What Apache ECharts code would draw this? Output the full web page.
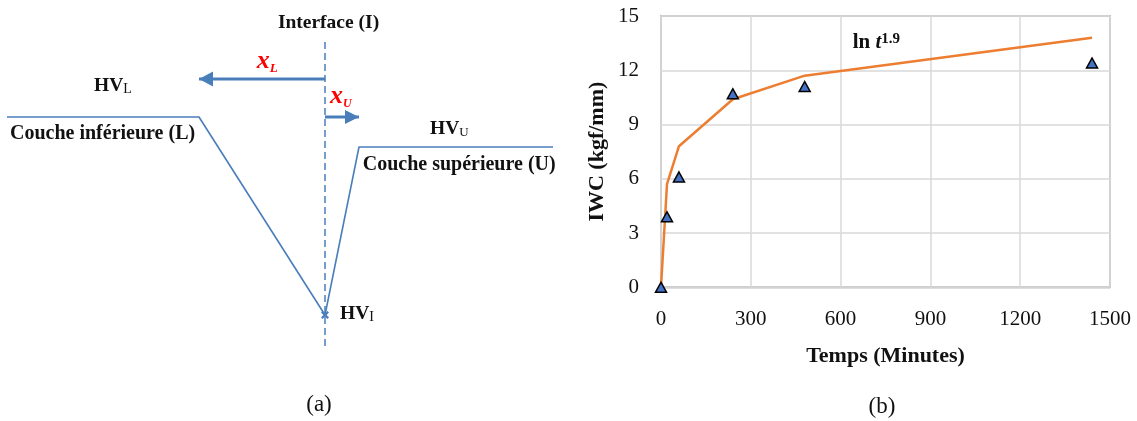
<!DOCTYPE html>
<html>
<head>
<meta charset="utf-8">
<script src="https://cdn.jsdelivr.net/npm/echarts@6/dist/echarts.min.js"></script>
<style>
html,body{margin:0;padding:0;background:#ffffff;}
#chart{width:1137px;height:421px;}
</style>
</head>
<body>
<div id="chart"></div>
<script>
// ---------- Panel (b) data ----------
const timeMinutes = [0, 20, 60, 240, 480, 1440];
const iwcMeasured = [0, 3.9, 6.1, 10.7, 11.1, 12.4];
const iwcModel = [0, 5.7, 7.8, 10.4, 11.7, 13.8];
const xTicks = [0, 300, 600, 900, 1200, 1500];
const yTicks = [0, 3, 6, 9, 12, 15];

// ---------- Panel (a) schematic data (distance from interface, hardness level) ----------
const profileDistance = [-318, -126, 0, 34, 228];
const profileHardness = [198, 198, 0, 168, 168];
const interfaceDistance = [0, 0];
const interfaceExtent = [273, -33];
const arrowLDistance = [0, -126];
const arrowLLevel = [236, 236];
const arrowUDistance = [0, 34];
const arrowULevel = [198, 198];
const minPoint = [0, 0];

const FONT = "'Liberation Serif', 'Times New Roman', serif";
const BLUE = '#4a7ebb';
const TXT = '#111111';

const zip = (a, b) => a.map((v, i) => [v, b[i]]);

const chart = echarts.init(document.getElementById('chart'), null, {renderer: 'canvas'});

const hiddenAxis = {
  show: false, axisLine: {show: false}, axisTick: {show: false},
  axisLabel: {show: false}, splitLine: {show: false}
};

const option = {
  backgroundColor: '#ffffff',
  animation: false,
  grid: [
    {left: 661, top: 16, width: 449, height: 271.3, show: true,
     borderColor: '#bfbfbf', borderWidth: 2, backgroundColor: 'transparent',
     containLabel: false, outerBoundsMode: 'none'},
    {left: 0, top: 0, width: 570, height: 421, show: false,
     containLabel: false, outerBoundsMode: 'none'}
  ],
  xAxis: [
    {gridIndex: 0, type: 'value', min: xTicks[0], max: xTicks[xTicks.length - 1], interval: 300,
     name: 'Temps (Minutes)', nameLocation: 'middle', nameGap: 58,
     nameTextStyle: {fontFamily: FONT, fontWeight: 'bold', fontSize: 22, color: TXT},
     axisLine: {show: false}, axisTick: {show: false},
     axisLabel: {fontFamily: FONT, fontSize: 21, color: TXT, margin: 22, formatter: v => String(v)},
     splitLine: {show: true, lineStyle: {color: '#d9d9d9', width: 1.5}}},
    Object.assign({gridIndex: 1, type: 'value', min: -325, max: 245}, hiddenAxis)
  ],
  yAxis: [
    {gridIndex: 0, type: 'value', min: yTicks[0], max: yTicks[yTicks.length - 1], interval: 3,
     name: 'IWC (kgf/mm)', nameLocation: 'middle', nameGap: 53,
     nameTextStyle: {fontFamily: FONT, fontWeight: 'bold', fontSize: 22, color: TXT},
     axisLine: {show: false}, axisTick: {show: false},
     axisLabel: {fontFamily: FONT, fontSize: 21, color: TXT, margin: 22, formatter: v => String(v)},
     splitLine: {show: true, lineStyle: {color: '#d9d9d9', width: 1.5}}},
    Object.assign({gridIndex: 1, type: 'value', min: -106, max: 315}, hiddenAxis)
  ],
  series: [
    // ----- panel (b) -----
    {type: 'line', name: 'ln t^1.9', xAxisIndex: 0, yAxisIndex: 0,
     data: zip(timeMinutes, iwcModel), showSymbol: false, symbol: 'none',
     lineStyle: {color: '#ed7d31', width: 2.5}, z: 3},
    {type: 'scatter', name: 'IWC', xAxisIndex: 0, yAxisIndex: 0,
     data: zip(timeMinutes, iwcMeasured), symbol: 'triangle', symbolSize: [11, 10],
     itemStyle: {color: '#4472c4', borderColor: '#000000', borderWidth: 1.5, opacity: 1}, z: 4},
    // ----- panel (a) -----
    {type: 'line', xAxisIndex: 1, yAxisIndex: 1, data: zip(interfaceDistance, interfaceExtent),
     symbol: 'none', lineStyle: {color: BLUE, width: 1.5, type: [7, 4]}, z: 2},
    {type: 'line', xAxisIndex: 1, yAxisIndex: 1, data: zip(profileDistance, profileHardness),
     symbol: 'none', lineStyle: {color: BLUE, width: 1.6}, z: 3},
    {type: 'line', xAxisIndex: 1, yAxisIndex: 1, data: zip(arrowLDistance, arrowLLevel),
     symbol: 'none', lineStyle: {color: BLUE, width: 3}, z: 3},
    {type: 'line', xAxisIndex: 1, yAxisIndex: 1, data: zip(arrowUDistance, arrowULevel),
     symbol: 'none', lineStyle: {color: BLUE, width: 3}, z: 3},
    {type: 'scatter', xAxisIndex: 1, yAxisIndex: 1,
     data: [[arrowLDistance[1], arrowLLevel[1]]], symbol: 'triangle', symbolSize: [15, 14],
     symbolRotate: 90, symbolOffset: [7, 0], itemStyle: {color: BLUE, opacity: 1}, z: 4},
    {type: 'scatter', xAxisIndex: 1, yAxisIndex: 1,
     data: [[arrowUDistance[1], arrowULevel[1]]], symbol: 'triangle', symbolSize: [14, 14],
     symbolRotate: -90, symbolOffset: [-7, 0], itemStyle: {color: BLUE, opacity: 1}, z: 4},
    {type: 'scatter', xAxisIndex: 1, yAxisIndex: 1, data: [minPoint],
     symbol: 'path://M2,0L5,3L8,0L10,2L7,5L10,8L8,10L5,7L2,10L0,8L3,5L0,2Z',
     symbolSize: 8, itemStyle: {color: BLUE, opacity: 1}, z: 5}
  ],
  graphic: [
    {type: 'text', x: 328.5, y: 23.3, silent: true,
     style: {text: 'Interface (I)', fontFamily: FONT, fontWeight: 'bold', fontSize: 19.5, fill: TXT,
             align: 'center', verticalAlign: 'middle', textAlign: 'center', textVerticalAlign: 'middle'}},
    {type: 'text', x: 256.7, y: 61.7, silent: true,
     style: {text: '{x|x}{s|L}', align: 'left', verticalAlign: 'middle', textAlign: 'left', textVerticalAlign: 'middle',
             rich: {x: {fontFamily: FONT, fontStyle: 'italic', fontWeight: 'bold', fontSize: 26, fill: '#ff0000', color: '#ff0000', lineHeight: 26},
                    s: {fontFamily: FONT, fontStyle: 'italic', fontWeight: 'bold', fontSize: 13, fill: '#ff0000', color: '#ff0000', lineHeight: 14, verticalAlign: 'bottom'}}}},
    {type: 'text', x: 330, y: 96.7, silent: true,
     style: {text: '{x|x}{s|U}', align: 'left', verticalAlign: 'middle', textAlign: 'left', textVerticalAlign: 'middle',
             rich: {x: {fontFamily: FONT, fontStyle: 'italic', fontWeight: 'bold', fontSize: 26, fill: '#ff0000', color: '#ff0000', lineHeight: 26},
                    s: {fontFamily: FONT, fontStyle: 'italic', fontWeight: 'bold', fontSize: 12, fill: '#ff0000', color: '#ff0000', lineHeight: 14, verticalAlign: 'bottom'}}}},
    {type: 'text', x: 94, y: 86, silent: true,
     style: {text: '{b|HV}{s|L}', align: 'left', verticalAlign: 'middle', textAlign: 'left', textVerticalAlign: 'middle',
             rich: {b: {fontFamily: FONT, fontWeight: 'bold', fontSize: 19.5, fill: TXT, color: TXT, lineHeight: 20},
                    s: {fontFamily: FONT, fontSize: 14, fill: TXT, color: TXT, lineHeight: 14, verticalAlign: 'bottom'}}}},
    {type: 'text', x: 10, y: 134, silent: true,
     style: {text: 'Couche inférieure (L)', fontFamily: FONT, fontWeight: 'bold', fontSize: 20, fill: TXT,
             align: 'left', verticalAlign: 'middle', textAlign: 'left', textVerticalAlign: 'middle'}},
    {type: 'text', x: 430, y: 129.3, silent: true,
     style: {text: '{b|HV}{s|U}', align: 'left', verticalAlign: 'middle', textAlign: 'left', textVerticalAlign: 'middle',
             rich: {b: {fontFamily: FONT, fontWeight: 'bold', fontSize: 19.5, fill: TXT, color: TXT, lineHeight: 20},
                    s: {fontFamily: FONT, fontSize: 13, fill: TXT, color: TXT, lineHeight: 14, verticalAlign: 'bottom'}}}},
    {type: 'text', x: 362.7, y: 165, silent: true,
     style: {text: 'Couche supérieure (U)', fontFamily: FONT, fontWeight: 'bold', fontSize: 20, fill: TXT,
             align: 'left', verticalAlign: 'middle', textAlign: 'left', textVerticalAlign: 'middle'}},
    {type: 'text', x: 340, y: 314.3, silent: true,
     style: {text: '{b|HV}{s|I}', align: 'left', verticalAlign: 'middle', textAlign: 'left', textVerticalAlign: 'middle',
             rich: {b: {fontFamily: FONT, fontWeight: 'bold', fontSize: 19.5, fill: TXT, color: TXT, lineHeight: 20},
                    s: {fontFamily: FONT, fontSize: 14, fill: TXT, color: TXT, lineHeight: 14, verticalAlign: 'bottom'}}}},
    {type: 'text', x: 319, y: 405, silent: true,
     style: {text: '(a)', fontFamily: FONT, fontSize: 23, fill: TXT,
             align: 'center', verticalAlign: 'middle', textAlign: 'center', textVerticalAlign: 'middle'}},
    {type: 'text', x: 882, y: 407, silent: true,
     style: {text: '(b)', fontFamily: FONT, fontSize: 23, fill: TXT,
             align: 'center', verticalAlign: 'middle', textAlign: 'center', textVerticalAlign: 'middle'}},
    {type: 'text', x: 852.7, y: 42.5, silent: true, z: 10,
     style: {text: '{b|ln }{i|t}{p|1.9}', align: 'left', verticalAlign: 'middle', textAlign: 'left', textVerticalAlign: 'middle',
             rich: {b: {fontFamily: FONT, fontWeight: 'bold', fontSize: 21, fill: TXT, color: TXT, lineHeight: 22},
                    i: {fontFamily: FONT, fontWeight: 'bold', fontStyle: 'italic', fontSize: 21, fill: TXT, color: TXT, lineHeight: 22},
                    p: {fontFamily: FONT, fontWeight: 'bold', fontSize: 15, fill: TXT, color: TXT, lineHeight: 10, verticalAlign: 'top'}}}}
  ]
};

chart.setOption(option);
</script>
</body>
</html>
